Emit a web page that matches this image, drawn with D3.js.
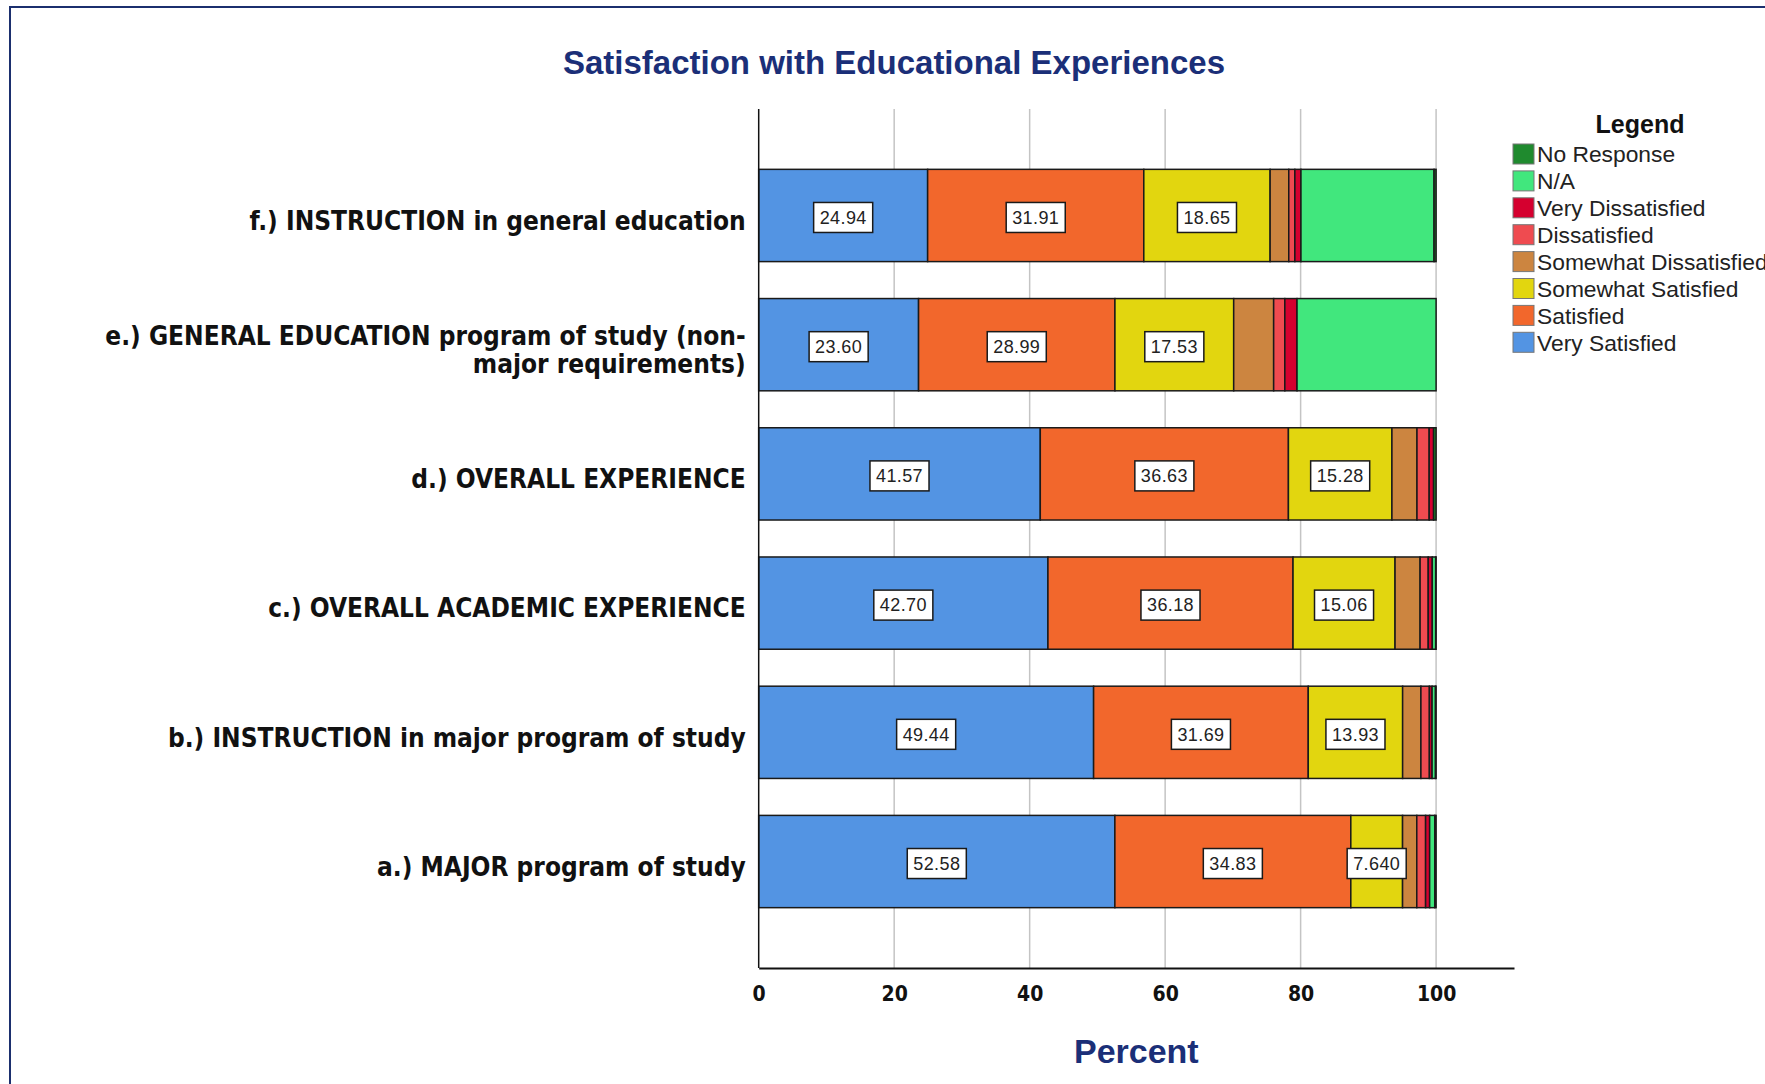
<!DOCTYPE html>
<html>
<head>
<meta charset="utf-8">
<script src="https://cdn.jsdelivr.net/npm/d3@7"></script>
<style>
  body { margin: 0; background: #fff; }
  svg { display: block; }
  .title { font: bold 33px "Liberation Sans", Arial, sans-serif; fill: #1b2f78; }
  .axis-title { font: bold 34px "Liberation Sans", Arial, sans-serif; fill: #1b2f78; }
  .cat { font: bold 26px "Liberation Sans Narrow", "Arial Narrow", "DejaVu Sans Condensed", sans-serif; font-stretch: condensed; fill: #111; }
  .tick text { font: bold 21px "Liberation Sans Narrow", "Arial Narrow", "DejaVu Sans Condensed", sans-serif; font-stretch: condensed; fill: #111; }
  .val { font: 18px "Liberation Sans", Arial, sans-serif; fill: #222; letter-spacing: 0.4px; }
  .legend-title { font: bold 25px "Liberation Sans", Arial, sans-serif; fill: #111; }
  .legend-item { font: 22.8px "Liberation Sans", Arial, sans-serif; fill: #222; }
</style>
</head>
<body>
<svg id="svg" width="1765" height="1084"></svg>
<script>

// categories, top to bottom
var categories = [
  'f.) INSTRUCTION in general education',
  'e.) GENERAL EDUCATION program of study (non-\nmajor requirements)',
  'd.) OVERALL EXPERIENCE',
  'c.) OVERALL ACADEMIC EXPERIENCE',
  'b.) INSTRUCTION in major program of study',
  'a.) MAJOR program of study'
];

// series, stacked left to right
var seriesNames = ['Very Satisfied', 'Satisfied', 'Somewhat Satisfied', 'Somewhat Dissatisfied',
  'Dissatisfied', 'Very Dissatisfied', 'N/A', 'No Response'];
var seriesColors = ['#5394e3', '#f2672c', '#e2d60f', '#cc8540', '#ef4b50', '#d5002f', '#41e77d', '#1f8a2e'];

var verySatisfied        = [24.94, 23.60, 41.57, 42.70, 49.44, 52.58];
var satisfied            = [31.91, 28.99, 36.63, 36.18, 31.69, 34.83];
var somewhatSatisfied    = [18.65, 17.53, 15.28, 15.06, 13.93, 7.64];
var somewhatDissatisfied = [2.75, 5.90, 3.70, 3.70, 2.70, 2.10];
var dissatisfied         = [0.90, 1.65, 1.80, 1.20, 1.25, 1.30];
var veryDissatisfied     = [0.90, 1.80, 0.65, 0.60, 0.40, 0.60];
var notApplicable        = [19.65, 20.53, 0, 0.50, 0.50, 0.75];
var noResponse           = [0.30, 0, 0.37, 0.06, 0.09, 0.20];

var xTicks = [0, 20, 40, 60, 80, 100];
var labelledSeries = 3; // first three series get value boxes

var seriesValues = [verySatisfied, satisfied, somewhatSatisfied, somewhatDissatisfied,
  dissatisfied, veryDissatisfied, notApplicable, noResponse];

// table for d3.stack
var rows = categories.map(function (c, i) {
  var r = {category: c};
  seriesNames.forEach(function (s, j) { r[s] = seriesValues[j][i]; });
  return r;
});

var svg = d3.select('#svg');
var plot = {left: 758.7, right: 1514, top: 109, bottom: 968};

// frame round the whole chart
svg.append('rect')
  .attr('x', 10).attr('y', 7)
  .attr('width', 1800).attr('height', 1120)
  .attr('fill', 'none')
  .attr('stroke', '#1b2f6e')
  .attr('stroke-width', 2);

svg.append('text')
  .attr('class', 'title')
  .attr('x', 894).attr('y', 74)
  .attr('text-anchor', 'middle')
  .text('Satisfaction with Educational Experiences');

var x = d3.scaleLinear()
  .domain([0, 111.5])
  .range([plot.left, plot.right]);

var y = d3.scaleBand()
  .domain(categories)
  .range([plot.top, plot.bottom])
  .paddingInner(0.286)
  .paddingOuter(0.467);

// gridlines
svg.append('g')
  .selectAll('line')
  .data(xTicks.slice(1))
  .enter().append('line')
  .attr('x1', function (d) { return x(d); })
  .attr('x2', function (d) { return x(d); })
  .attr('y1', plot.top)
  .attr('y2', plot.bottom)
  .attr('stroke', '#c4c4c4')
  .attr('stroke-width', 1.5);

// stacked bars
var stack = d3.stack().keys(seriesNames);
var layers = stack(rows);

var layerG = svg.append('g')
  .selectAll('g')
  .data(layers)
  .enter().append('g')
  .attr('fill', function (d, i) { return seriesColors[i]; });

layerG.selectAll('rect')
  .data(function (d) { return d; })
  .enter().append('rect')
  .attr('x', function (d) { return x(d[0]); })
  .attr('y', function (d) { return y(d.data.category); })
  .attr('width', function (d) { return Math.max(0, x(d[1]) - x(d[0])); })
  .attr('height', y.bandwidth())
  .attr('stroke', '#1a1a1a')
  .attr('stroke-width', function (d) { return d[1] - d[0] > 0 ? 1.5 : 0; });

// value boxes
var fmt = d3.format('.4r');
var labels = [];
layers.slice(0, labelledSeries).forEach(function (layer) {
  layer.forEach(function (d) {
    labels.push({cx: x((d[0] + d[1]) / 2), cy: y(d.data.category) + y.bandwidth() / 2 + 2, text: fmt(d[1] - d[0])});
  });
});

var lab = svg.append('g')
  .selectAll('g')
  .data(labels)
  .enter().append('g')
  .attr('transform', function (d) { return 'translate(' + d.cx + ',' + d.cy + ')'; });

lab.append('rect')
  .attr('fill', '#fff')
  .attr('stroke', '#1a1a1a')
  .attr('stroke-width', 1.5);

lab.append('text')
  .attr('class', 'val')
  .attr('text-anchor', 'middle')
  .attr('dy', '0.35em')
  .text(function (d) { return d.text; });

lab.each(function () {
  var g = d3.select(this);
  var w = g.select('text').node().getComputedTextLength() + 12;
  g.select('rect')
    .attr('x', -w / 2).attr('y', -15)
    .attr('width', w).attr('height', 30);
});

// axes
svg.append('line')
  .attr('x1', plot.left).attr('x2', plot.left)
  .attr('y1', plot.top).attr('y2', plot.bottom)
  .attr('stroke', '#111').attr('stroke-width', 1.5);

var xAxis = svg.append('g')
  .attr('transform', 'translate(0,' + plot.bottom + ')')
  .call(d3.axisBottom(x).tickValues(xTicks).tickSize(0).tickPadding(18));
xAxis.select('.domain').attr('stroke', '#111').attr('stroke-width', 2);
xAxis.selectAll('.tick text').attr('font-family', null).attr('font-size', null);

svg.append('text')
  .attr('class', 'axis-title')
  .attr('x', (plot.left + plot.right) / 2)
  .attr('y', 1063)
  .attr('text-anchor', 'middle')
  .text('Percent');

// category labels, may wrap onto two lines
var catG = svg.append('g')
  .selectAll('text')
  .data(categories)
  .enter().append('text')
  .attr('class', 'cat')
  .attr('text-anchor', 'end')
  .attr('transform', function (d) { return 'translate(' + (plot.left - 13) + ',' + (y(d) + y.bandwidth() / 2 + 5) + ')'; });

catG.each(function (d) {
  var lines = d.split('\n');
  var t = d3.select(this);
  lines.forEach(function (line, i) {
    t.append('tspan')
      .attr('x', 0)
      .attr('y', (i - (lines.length - 1) / 2) * 28)
      .attr('dy', '0.36em')
      .text(line);
  });
});

// legend
var legendOrder = d3.range(seriesNames.length).reverse();

svg.append('text')
  .attr('class', 'legend-title')
  .attr('x', 1640).attr('y', 124)
  .attr('dy', '0.35em')
  .attr('text-anchor', 'middle')
  .text('Legend');

var item = svg.append('g')
  .selectAll('g')
  .data(legendOrder)
  .enter().append('g')
  .attr('transform', function (d, i) { return 'translate(1513,' + (154 + i * 26.9) + ')'; });

item.append('rect')
  .attr('x', 0).attr('y', -10)
  .attr('width', 21).attr('height', 20)
  .attr('fill', function (d) { return seriesColors[d]; })
  .attr('stroke', '#777')
  .attr('stroke-width', 1);

item.append('text')
  .attr('class', 'legend-item')
  .attr('x', 24)
  .attr('dy', '0.36em')
  .text(function (d) { return seriesNames[d]; });

</script>
</body>
</html>
